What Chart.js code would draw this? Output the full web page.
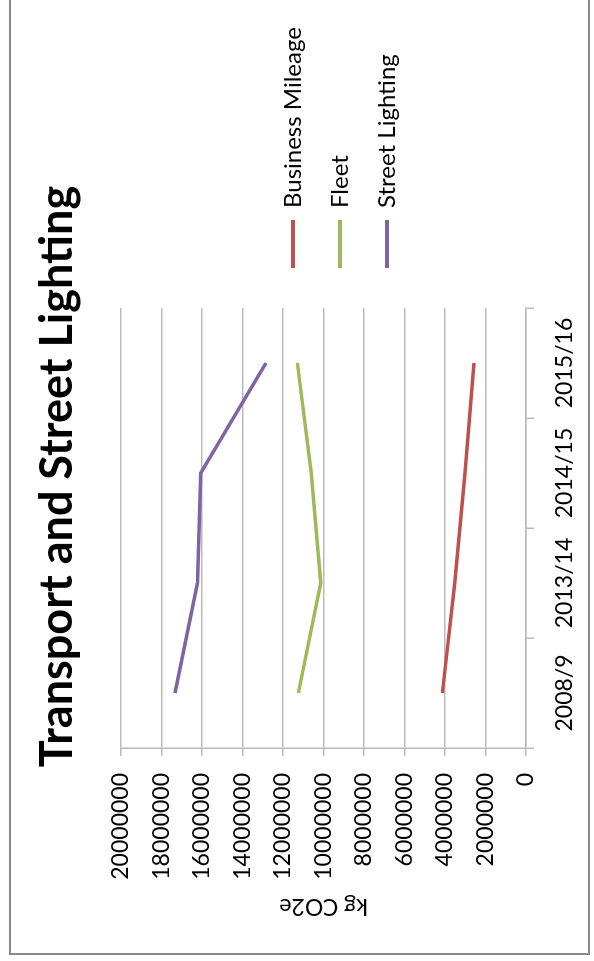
<!DOCTYPE html>
<html>
<head>
<meta charset="utf-8">
<title>Transport and Street Lighting</title>
<script src="https://cdn.jsdelivr.net/npm/chart.js@4.4.1/dist/chart.umd.min.js"></script>
<style>
  html, body { margin: 0; padding: 0; background: #fff; overflow: hidden; width: 594px; height: 961px; }
  /* the sheet is laid out landscape and turned a quarter turn anticlockwise */
  #sheet { position: absolute; left: 0; top: 961px; width: 986px; height: 594px;
           transform-origin: 0 0; transform: rotate(-90deg); background: #fff; }
  #frame { position: absolute; left: 6px; top: 9px; width: 974px; height: 581px;
           border: 2px solid #8a8a8a; box-sizing: border-box; }
  #c { position: absolute; left: 0; top: 0; }
</style>
</head>
<body>
<div id="sheet">
  <div id="frame"></div>
  <canvas id="c" width="986" height="594"></canvas>
</div>
<script>
// Emissions by year (kg CO2e)
const categories = ['2008/9', '2013/14', '2014/15', '2015/16'];
const businessMileage = [4130000, 3520000, 3010000, 2570000];
const fleet = [11240000, 10140000, 10600000, 11290000];
const streetLighting = [17330000, 16220000, 16060000, 12840000];

const seriesNames = ['Business Mileage', 'Fleet', 'Street Lighting'];
const seriesColors = ['#c0504d', '#9bbb59', '#8064a2'];

const valueMin = 0;
const valueMax = 20000000;
const valueStep = 2000000;

const FONT = 'Lato';
const GRID = '#bababa';

// Fixes the legend column width and places its block beside the plot.
const legendPlacement = {
  id: 'legendPlacement',
  afterInit(chart, args, opts) {
    const lg = chart.legend;
    const fit = lg.fit;
    lg.fit = function () { fit.call(this); this.width = opts.width; };
  },
  afterLayout(chart, args, opts) {
    const lg = chart.legend;
    lg.left += opts.dx;
    lg.right += opts.dx;
    const h = lg.height;
    lg.top = opts.top;
    lg.bottom = opts.top + h;
  }
};

const baseLabels = Chart.defaults.plugins.legend.labels.generateLabels;

new Chart(document.getElementById('c'), {
  type: 'line',
  data: {
    labels: categories,
    datasets: [businessMileage, fleet, streetLighting].map((values, i) => ({
      label: seriesNames[i],
      data: values,
      borderColor: seriesColors[i],
      backgroundColor: seriesColors[i],
      borderWidth: 3.5,
      pointRadius: 0,
      pointHoverRadius: 0,
      tension: 0,
      fill: false
    }))
  },
  options: {
    responsive: false,
    animation: false,
    devicePixelRatio: 1,
    layout: { padding: { left: 0, top: 0, bottom: 0, right: 17 } },
    plugins: {
      title: {
        display: true,
        text: 'Transport and Street Lighting',
        color: '#000',
        font: { family: FONT, size: 45, weight: 'bold' },
        padding: { top: 30, bottom: 37 }
      },
      legend: {
        position: 'right',
        align: 'start',
        labels: {
          color: '#000',
          font: { family: FONT, size: 24 },
          boxWidth: 48,
          boxHeight: 4,
          padding: 23,
          generateLabels(chart) {
            return baseLabels(chart).map(item => Object.assign(item, {
              lineWidth: 0,
              fillStyle: item.strokeStyle
            }));
          }
        }
      },
      legendPlacement: { width: 316, dx: 17, top: 258 },
      tooltip: { enabled: false }
    },
    scales: {
      x: {
        type: 'category',
        offset: true,
        grid: {
          offset: true,
          drawOnChartArea: false,
          drawTicks: true,
          tickLength: 8,
          color: GRID,
          lineWidth: 1.5
        },
        border: { display: true, color: GRID, width: 1.5 },
        ticks: {
          color: '#000',
          font: { family: FONT, size: 23 },
          padding: 17,
          maxRotation: 0,
          autoSkip: false
        },
        afterFit(scale) { scale.height = 68; }
      },
      y: {
        min: valueMin,
        max: valueMax,
        grid: {
          color: GRID,
          lineWidth: 1.5,
          drawTicks: true,
          tickLength: 8
        },
        border: { display: true, color: GRID, width: 1.5 },
        ticks: {
          stepSize: valueStep,
          color: '#000',
          font: { family: FONT, size: 23 },
          padding: 17,
          callback: v => String(v)
        },
        title: {
          display: true,
          text: 'kg CO2e',
          color: '#000',
          font: { family: FONT, size: 23 },
          padding: { top: 41, bottom: 0 }
        },
        afterFit(scale) { scale.width = 213; }
      }
    }
  },
  plugins: [legendPlacement]
});
</script>
</body>
</html>
